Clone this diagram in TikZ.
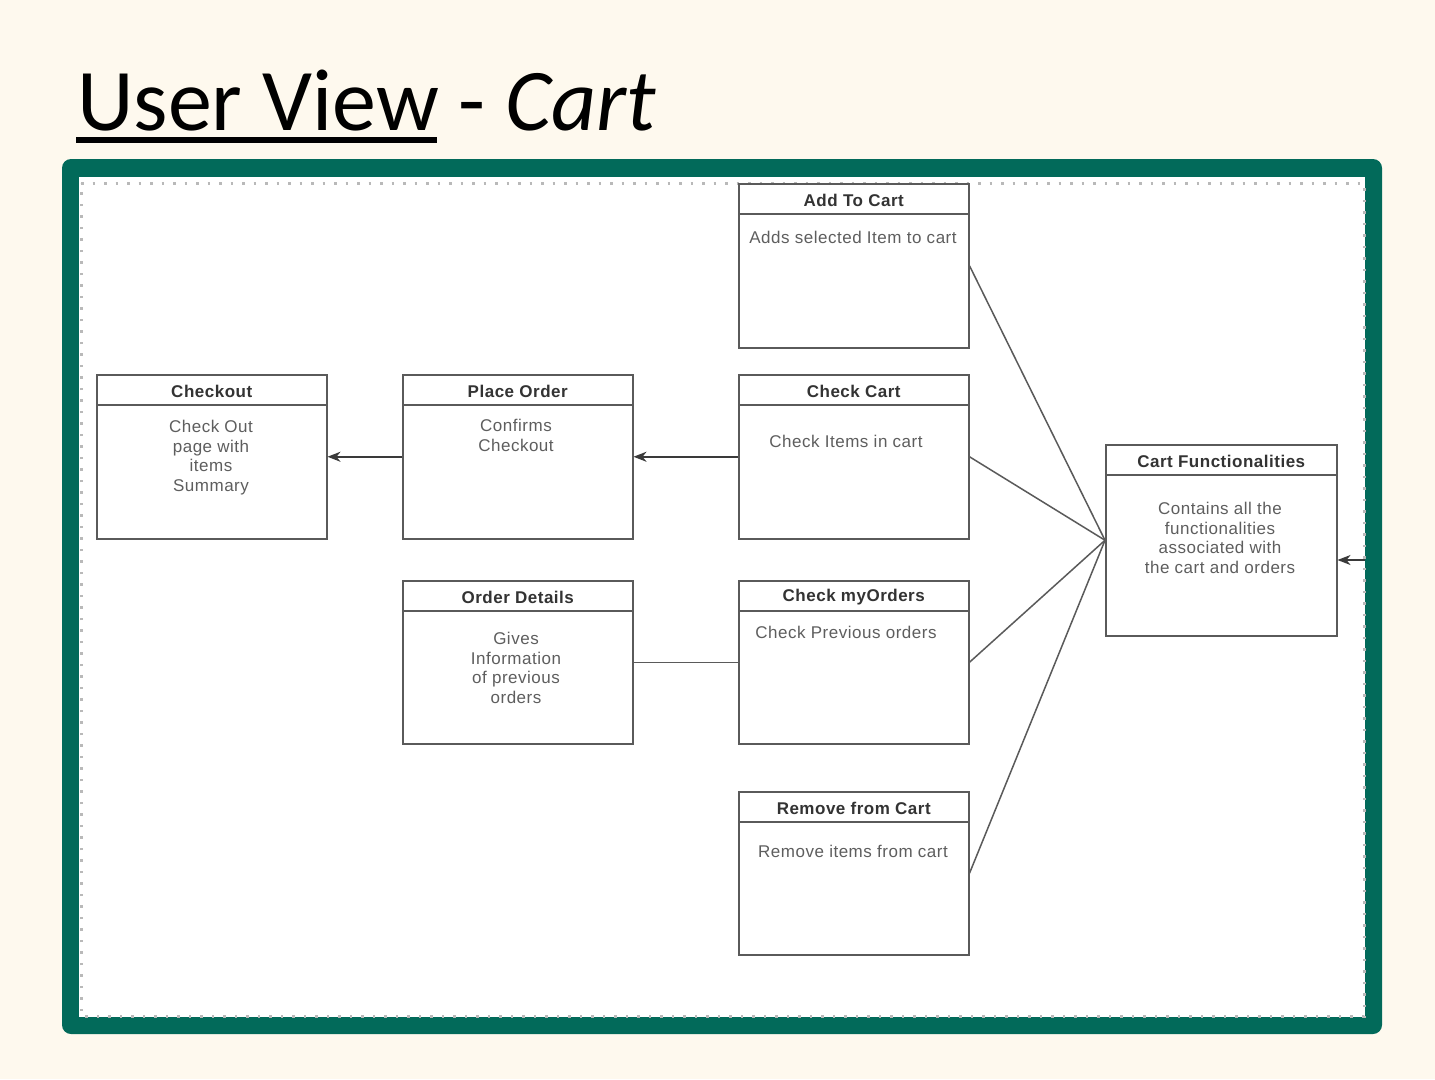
\documentclass[tikz,border=0pt]{standalone}
\usepackage{fontspec}
\setmainfont{Carlito}
\newfontfamily\diagfont[LetterSpace=3]{Liberation Sans}
\usetikzlibrary{arrows.meta}

\definecolor{pagebg}{HTML}{FEF9EE}
\definecolor{framegreen}{HTML}{026A5A}
\definecolor{boxedge}{HTML}{5A5A5A}
\definecolor{linkedge}{HTML}{3A3A3A}
\definecolor{headtext}{HTML}{333333}
\definecolor{bodytext}{HTML}{5E5E5E}

\tikzset{
  classbox/.style={draw=boxedge, line width=1.5pt, fill=white, inner sep=0pt, anchor=north west},
  divider/.style={draw=boxedge, line width=1.5pt},
  headlabel/.style={font=\diagfont\bfseries\fontsize{17}{20}\selectfont, text=headtext, inner sep=0pt},
  bodylabel/.style={font=\diagfont\fontsize{17}{19.7}\selectfont, text=bodytext, inner sep=0pt, align=center, anchor=north},
  link/.style={draw=boxedge, line width=1.5pt},
  arrowlink/.style={draw=linkedge, line width=1.6pt, -{Stealth[length=13pt,width=10pt,inset=4pt]}},
}

% A class-like box: name, left, top, width, height, title
\newcommand\classnode[6]{%
  \node[classbox, minimum width=#4pt, minimum height=#5pt] (#1) at (#2,#3) {};
  \draw[divider] ([yshift=-31pt]#1.north west) -- ([yshift=-31pt]#1.north east);
  \node[headlabel] (#1-title) at ([yshift=-17pt]#1.north) {#6};
}

\begin{document}
\begin{tikzpicture}[x=1pt, y=-1pt]
  % page
  \fill[pagebg] (0,0) rectangle (1435,1079);
  \useasboundingbox (0,0) rectangle (1435,1079);

  % heading
  \node[anchor=base west, inner sep=0pt, font=\fontsize{88}{100}\selectfont] (heading) at (77,130)
    {User View - \textit{Cart}};
  \fill[black] (76,137) rectangle (437,143);

  % green frame and white canvas
  \fill[framegreen, rounded corners=9pt] (62,159) rectangle (1382,1034);
  \fill[white] (79,177) rectangle (1365,1017);
  \draw[gray!55, line width=3pt, dash pattern=on 2.5pt off 9pt] (81,183) -- (1364,183) -- (1364,1016) -- (81,1016) -- cycle;

  % boxes
  \classnode{addcart}{738}{183}{230}{164}{Add To Cart}
  \classnode{checkcart}{738}{374}{230}{164}{Check Cart}
  \classnode{myorders}{738}{580}{230}{163}{Check myOrders}
  \classnode{removecart}{738}{791}{230}{163}{Remove from Cart}
  \classnode{checkout}{96}{374}{230}{164}{Checkout}
  \classnode{placeorder}{402}{374}{230}{164}{Place Order}
  \classnode{orderdetails}{402}{580}{230}{163}{Order Details}
  \classnode{cartfn}{1105}{444}{231}{191}{Cart Functionalities}

  % box descriptions
  \node[bodylabel] (addcart-body) at (853,230.5) {Adds selected Item to cart};
  \node[bodylabel] (checkcart-body) at (846,435) {Check Items in cart};
  \node[bodylabel] (myorders-body) at (846,626) {Check Previous orders};
  \node[bodylabel] (removecart-body) at (853,845) {Remove items from cart};
  \node[bodylabel] (checkout-body) at (211,420) {Check Out\\page with\\items\\Summary};
  \node[bodylabel] (placeorder-body) at (516,419) {Confirms\\Checkout};
  \node[bodylabel] (orderdetails-body) at (516,632) {Gives\\Information\\of previous\\orders};
  \node[bodylabel] (cartfn-body) at (1220,502) {Contains all the\\functionalities\\associated with\\the cart and orders};

  % connectors
  \draw[arrowlink] (checkcart.west) -- (placeorder.east);
  \draw[arrowlink] (placeorder.west) -- (checkout.east);
  \draw[link] (myorders.west) -- (orderdetails.east);
  \draw[link] (cartfn.west) -- (addcart.east);
  \draw[link] (cartfn.west) -- (checkcart.east);
  \draw[link] (cartfn.west) -- (myorders.east);
  \draw[link] (cartfn.west) -- (removecart.east);
  \coordinate (inlet) at (1365,560);
  \draw[arrowlink] (inlet) -- (inlet -| cartfn.east);
\end{tikzpicture}
\end{document}
